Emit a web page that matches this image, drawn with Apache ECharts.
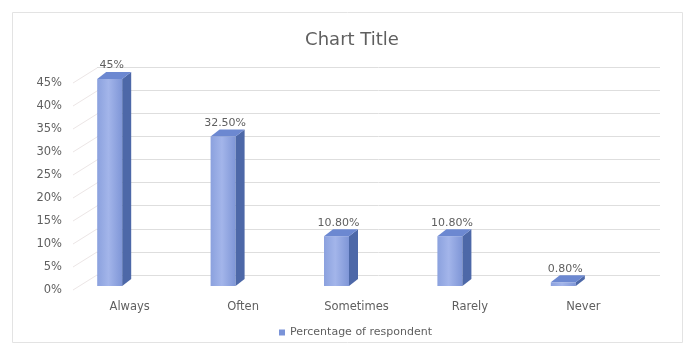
<!DOCTYPE html>
<html>
<head>
<meta charset="utf-8">
<script src="https://cdn.jsdelivr.net/npm/echarts@6/dist/echarts.min.js"></script>
<style>
  html, body { margin: 0; padding: 0; background: #ffffff; }
  #chart { width: 684px; height: 347px; }
</style>
</head>
<body>
<div id="chart"></div>
<script>
// Survey answers and the share of respondents for each
const categories = ['Always', 'Often', 'Sometimes', 'Rarely', 'Never'];
const shares = [0.45, 0.325, 0.108, 0.108, 0.008];
const shareLabels = ['45%', '32.50%', '10.80%', '10.80%', '0.80%'];
const yTicks = [0, 0.05, 0.10, 0.15, 0.20, 0.25, 0.30, 0.35, 0.40, 0.45];
const seriesName = 'Percentage of respondent';

const textColor = '#5f5f5f';
const fontFamily = '"DejaVu Sans", "Open Sans", sans-serif';

// Depth of the walls and of the columns (pseudo 3D projection)
const WALL_DX = 24, WALL_DY = -15;
const BAR_SHIFT_X = -20, BAR_SHIFT_Y = -4;
const BAR_W = 25, BAR_DX = 9, BAR_DY = -7;

const chart = echarts.init(document.getElementById('chart'), null, { renderer: 'canvas' });

function renderColumn(params, api) {
  const i = api.value(0);
  const v = api.value(1);
  const base = api.coord([i, 0]);
  const top = api.coord([i, v]);
  const x0 = base[0] + BAR_SHIFT_X - BAR_W / 2;
  const x1 = x0 + BAR_W;
  const yb = base[1] + BAR_SHIFT_Y;
  const yt = top[1] + BAR_SHIFT_Y;
  return {
    type: 'group',
    children: [
      {
        type: 'rect',
        shape: { x: x0, y: yt, width: BAR_W, height: Math.max(yb - yt, 0.5) },
        style: {
          fill: new echarts.graphic.LinearGradient(0, 0, 1, 0, [
            { offset: 0, color: '#8ba1de' },
            { offset: 0.45, color: '#a3b5ea' },
            { offset: 1, color: '#7f96d7' }
          ])
        }
      },
      {
        type: 'polygon',
        shape: { points: [[x1, yt], [x1 + BAR_DX, yt + BAR_DY], [x1 + BAR_DX, yb + BAR_DY], [x1, yb]] },
        style: { fill: '#4d68a8' }
      },
      {
        type: 'polygon',
        shape: { points: [[x0, yt], [x0 + BAR_DX, yt + BAR_DY], [x1 + BAR_DX, yt + BAR_DY], [x1, yt]] },
        style: { fill: '#6c88d1' }
      },
      {
        type: 'text',
        style: {
          text: shareLabels[i],
          x: x0 + BAR_W / 2 + 2,
          y: yt + BAR_DY - 1,
          textAlign: 'center',
          textVerticalAlign: 'bottom',
          fill: textColor,
          font: '11px ' + fontFamily
        }
      }
    ]
  };
}

function renderWallLine(params, api) {
  const v = api.value(1);
  const p = api.coord([0, v]);
  const x = params.coordSys.x;
  return {
    type: 'line',
    shape: { x1: x, y1: p[1], x2: x + WALL_DX, y2: p[1] + WALL_DY },
    style: { stroke: '#ece6e6', lineWidth: 1 }
  };
}

chart.setOption({
  backgroundColor: '#ffffff',
  animation: false,
  title: {
    text: 'Chart Title',
    left: 347,
    textAlign: 'center',
    top: 26,
    textStyle: { color: textColor, fontSize: 18, fontWeight: 'normal', fontFamily: fontFamily }
  },
  legend: {
    data: [{ name: seriesName, itemStyle: { color: '#7a93d8' } }],
    bottom: 4,
    left: 274,
    itemWidth: 6,
    itemHeight: 6,
    itemGap: 3,
    icon: 'rect',
    textStyle: { color: textColor, fontSize: 11, fontFamily: fontFamily }
  },
  graphic: [
    {
      type: 'rect',
      shape: { x: 12.5, y: 12.5, width: 670, height: 330 },
      style: { fill: 'none', stroke: '#e3e3e3', lineWidth: 1 },
      z: -10
    }
  ],
  grid: [
    { left: 73, right: 44, top: 83, bottom: 57 },
    { left: 73 + WALL_DX, right: 44 - WALL_DX + 4, top: 83 + WALL_DY - 1, bottom: 57 - WALL_DY },
  ],
  xAxis: [
    {
      type: 'category',
      gridIndex: 0,
      data: categories,
      axisLine: { show: false },
      axisTick: { show: false },
      axisLabel: { color: textColor, fontSize: 11.5, fontFamily: fontFamily, margin: 11 }
    },
    {
      type: 'category',
      gridIndex: 1,
      data: categories,
      show: false
    }
  ],
  yAxis: [
    {
      type: 'value',
      gridIndex: 0,
      min: 0,
      max: 0.45,
      interval: 0.05,
      axisLine: { show: false },
      axisTick: { show: false },
      splitLine: { show: false },
      axisLabel: {
        color: textColor,
        fontSize: 11.5,
        fontFamily: fontFamily,
        margin: 11,
        formatter: (v) => Math.round(v * 100) + '%'
      }
    },
    {
      type: 'value',
      gridIndex: 1,
      min: 0,
      max: 0.45,
      interval: 0.05,
      axisLine: { show: false },
      axisTick: { show: false },
      axisLabel: { show: false },
      splitLine: { show: true, lineStyle: { color: '#dedede', width: 1 } }
    }
  ],
  series: [
    {
      name: 'wall',
      type: 'custom',
      xAxisIndex: 0,
      yAxisIndex: 0,
      silent: true,
      renderItem: renderWallLine,
      data: yTicks.map((t) => [0, t]),
      z: 1
    },
    {
      name: seriesName,
      type: 'custom',
      xAxisIndex: 0,
      yAxisIndex: 0,
      renderItem: renderColumn,
      itemStyle: { color: '#7a93d8' },
      data: shares.map((v, i) => [i, v]),
      z: 5
    }
  ]
});
</script>
</body>
</html>
